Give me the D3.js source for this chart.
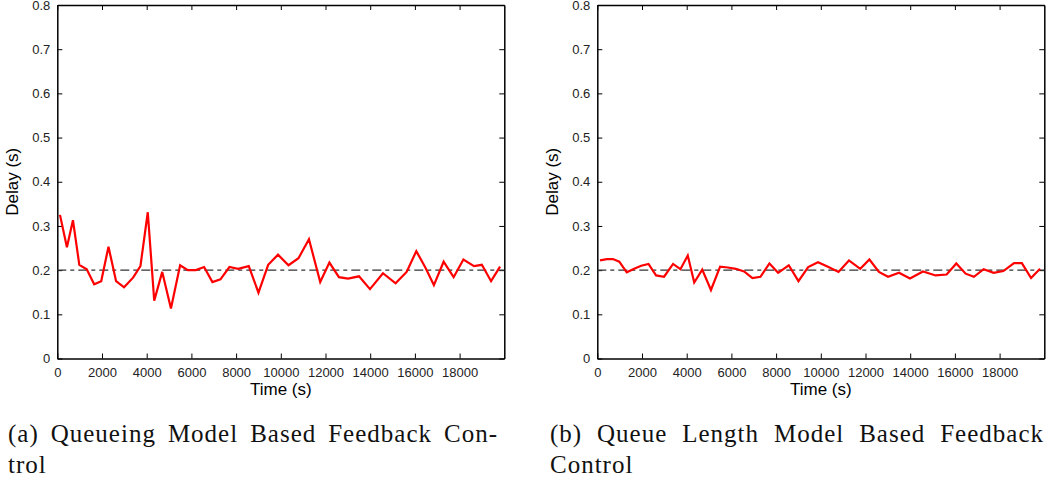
<!DOCTYPE html>
<html>
<head>
<meta charset="utf-8">
<script src="https://cdn.jsdelivr.net/npm/d3@7"></script>
<style>
  body { margin: 0; background: #fff; }
  .tick text { font-family: "Liberation Sans", Arial, sans-serif; font-size: 13px; fill: #222; }
  .axis path, .axis line { stroke: #000; }
  .caption { font-family: "Liberation Serif", "Times New Roman", serif; font-size: 25px; letter-spacing: 1px; fill: #111; }
</style>
</head>
<body>
<div id="chart"></div>
<script>
// sample times (s), shared by both panels
const times = [120, 430, 700, 985, 1317, 1650, 1965, 2290, 2630, 2987,
  3390, 3720, 4048, 4337, 4695, 5085, 5495, 5840, 6200, 6569,
  6940, 7300, 7702, 8090, 8566, 9001, 9435, 9875, 10344, 10792,
  11260, 11764, 12175, 12601, 13010, 13500, 13990, 14571, 15136, 15630,
  16063, 16479, 16850, 17285, 17733, 18170, 18645, 18996, 19408, 19810];

// (a) queueing model based feedback control
const delayA = [0.325, 0.252, 0.313, 0.212, 0.202, 0.168, 0.175, 0.253, 0.175, 0.161,
  0.183, 0.209, 0.331, 0.131, 0.196, 0.113, 0.211, 0.200, 0.200, 0.207,
  0.173, 0.179, 0.207, 0.203, 0.209, 0.149, 0.212, 0.235, 0.211, 0.227,
  0.270, 0.173, 0.217, 0.184, 0.181, 0.186, 0.157, 0.193, 0.170, 0.196,
  0.243, 0.205, 0.166, 0.219, 0.184, 0.224, 0.209, 0.212, 0.175, 0.208];

// (b) queue length model based feedback control
const delayB = [0.222, 0.225, 0.225, 0.219, 0.195, 0.203, 0.210, 0.214, 0.188, 0.185,
  0.214, 0.202, 0.233, 0.172, 0.201, 0.155, 0.208, 0.206, 0.203, 0.197,
  0.182, 0.185, 0.215, 0.194, 0.211, 0.175, 0.207, 0.218, 0.207, 0.196,
  0.222, 0.203, 0.224, 0.196, 0.185, 0.194, 0.181, 0.197, 0.188, 0.190,
  0.215, 0.192, 0.185, 0.202, 0.194, 0.198, 0.216, 0.216, 0.182, 0.203];

const target = 0.2;
const xTicks = [0, 2000, 4000, 6000, 8000, 10000, 12000, 14000, 16000, 18000];
const yTicks = [0, 0.1, 0.2, 0.3, 0.4, 0.5, 0.6, 0.7, 0.8];

const panels = [
  { values: delayA, left: 57.3, cap1: "(a) Queueing Model Based Feedback Con-", cap2: "trol", capX: 8, capW: 490 },
  { values: delayB, left: 597.3, cap1: "(b) Queue Length Model Based Feedback", cap2: "Control", capX: 550, capW: 494 }
];

const W = 1048, H = 479;
const plotW = 447, plotTop = 5, plotBottom = 358.5;

const svg = d3.select("#chart").append("svg")
    .attr("width", W)
    .attr("height", H);

// spread words over a fixed width, like a justified LaTeX line
function justify(sel, words, x0, width) {
  const spans = sel.selectAll("tspan")
    .data(words)
    .enter().append("tspan")
      .text(d => d);
  const widths = [];
  spans.each(function() { widths.push(this.getComputedTextLength()); });
  const gap = (width - d3.sum(widths)) / (words.length - 1);
  let cx = x0;
  spans.attr("x", (d, i) => {
    const pos = cx;
    cx += widths[i] + gap;
    return pos;
  });
}

panels.forEach(p => {
  const g = svg.append("g").attr("transform", `translate(${p.left},0)`);

  const x = d3.scaleLinear().domain([0, 20000]).range([0, plotW]);
  const y = d3.scaleLinear().domain([0, 0.8]).range([plotBottom, plotTop]);

  // MATLAB style box with inward ticks
  g.append("g")
      .attr("class", "axis")
      .attr("transform", `translate(0,${plotBottom})`)
      .call(d3.axisBottom(x).tickValues(xTicks).tickSizeInner(-5).tickSizeOuter(0).tickPadding(9).tickFormat(d3.format("d")))
      .call(a => a.select(".domain").attr("stroke-width", 1.5));

  g.append("g")
      .attr("class", "axis")
      .call(d3.axisLeft(y).tickValues(yTicks).tickSizeInner(-5).tickSizeOuter(0).tickPadding(7)
        .tickFormat(d => d === 0 ? "0" : d3.format(".1f")(d)))
      .call(a => a.select(".domain").attr("stroke-width", 1.5));

  g.append("g")
      .attr("class", "axis")
      .attr("transform", `translate(0,${plotTop})`)
      .call(d3.axisTop(x).tickValues(xTicks).tickSizeInner(-5).tickSizeOuter(0).tickFormat(""))
      .call(a => a.select(".domain").attr("stroke-width", 1.5));

  g.append("g")
      .attr("class", "axis")
      .attr("transform", `translate(${plotW},0)`)
      .call(d3.axisRight(y).tickValues(yTicks).tickSizeInner(-5).tickSizeOuter(0).tickFormat(""))
      .call(a => a.select(".domain").attr("stroke-width", 1.5));

  // target delay
  g.append("line")
      .attr("x1", x(0)).attr("x2", x(20000))
      .attr("y1", y(target)).attr("y2", y(target))
      .attr("stroke", "#333")
      .attr("stroke-width", 1.2)
      .attr("stroke-dasharray", "9,4,4,4");

  const line = d3.line()
      .x((d, i) => x(times[i]))
      .y(d => y(d));

  g.append("path")
      .datum(p.values)
      .attr("fill", "none")
      .attr("stroke", "#ff0000")
      .attr("stroke-width", 2.2)
      .attr("stroke-linejoin", "miter")
      .attr("d", line);

  // axis titles
  g.append("text")
      .attr("x", plotW / 2)
      .attr("y", 395)
      .attr("text-anchor", "middle")
      .style("font-family", "'Liberation Sans', Arial, sans-serif")
      .style("font-size", "17px")
      .text("Time (s)");

  g.append("text")
      .attr("transform", `translate(${-39},${(plotTop + plotBottom) / 2}) rotate(-90)`)
      .attr("text-anchor", "middle")
      .style("font-family", "'Liberation Sans', Arial, sans-serif")
      .style("font-size", "17px")
      .text("Delay (s)");

  // sub-figure caption
  const cap = svg.append("text")
      .attr("class", "caption")
      .attr("y", 442);
  justify(cap, p.cap1.split(" "), p.capX, p.capW);

  svg.append("text")
      .attr("class", "caption")
      .attr("x", p.capX)
      .attr("y", 473)
      .text(p.cap2);
});
</script>
</body>
</html>
